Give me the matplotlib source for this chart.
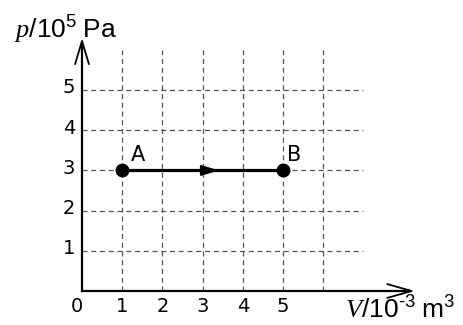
import matplotlib.pyplot as plt

plt.rcParams['mathtext.fontset'] = 'custom'
plt.rcParams['mathtext.rm'] = 'Liberation Sans'
plt.rcParams['mathtext.it'] = 'Liberation Serif:italic'

# process A -> B (isobaric expansion)
volumes = [1, 5]
pressures = [3, 3]
point_labels = ['A', 'B']
x_ticks = [0, 1, 2, 3, 4, 5]
y_ticks = [1, 2, 3, 4, 5]

fig = plt.figure(figsize=(4.64, 3.25), dpi=100)
ax = fig.add_axes([0, 0, 1, 1])
ax.set_xlim(-82 / 40.2, (464 - 82) / 40.2)
ax.set_ylim(-34 / 40.2, 291 / 40.2)
ax.axis('off')

# dashed grid
for x in range(1, 7):
    ax.plot([x, x], [0, 6], color='#555555', lw=0.9, ls=(0, (4, 3)), zorder=1)
for y in range(1, 6):
    ax.plot([0, 7], [y, y], color='#555555', lw=0.9, ls=(0, (4, 3)), zorder=1)

# axes with open arrowheads
ax.plot([0, 8.15], [0, 0], color='black', lw=1.6, zorder=2)
ax.plot([0, 0], [0, 6.15], color='black', lw=1.6, zorder=2)
ax.plot([7.6, 8.2, 7.6], [0.17, 0, -0.17], color='black', lw=1.3, zorder=2)
ax.plot([-0.17, 0, 0.17], [5.65, 6.22, 5.65], color='black', lw=1.3, zorder=2)

# tick labels
for x in x_ticks:
    ax.text(x - (0.12 if x == 0 else 0), -0.39, str(x), ha='center', va='center',
            fontsize=14, family='DejaVu Sans')
for y in y_ticks:
    ax.text(-0.17, y + 0.05, str(y), ha='right', va='center', fontsize=14,
            family='DejaVu Sans')

# axis titles
ax.text(-1.7, 6.5, r'$\mathit{p}\mathrm{/10^5\ Pa}$', fontsize=19, ha='left', va='center')
ax.text(6.55, -0.5, r'$\mathit{V}\mathrm{/10^{\text{-}3}\ m^3}$', fontsize=19,
        ha='left', va='center')

# process line and points
ax.plot(volumes, pressures, color='black', lw=2.3, zorder=3)
ax.plot(volumes, pressures, 'o', color='black', ms=9, zorder=4)
ax.fill([2.95, 3.35, 2.95], [3.12, 3, 2.88], color='black', zorder=4)
ax.text(volumes[0] + 0.22, pressures[0] + 0.38, point_labels[0], fontsize=15,
        family='DejaVu Sans', ha='left', va='center')
ax.text(volumes[1] + 0.1, pressures[1] + 0.38, point_labels[1], fontsize=15,
        family='DejaVu Sans', ha='left', va='center')

fig.savefig('out.png', dpi=100)
